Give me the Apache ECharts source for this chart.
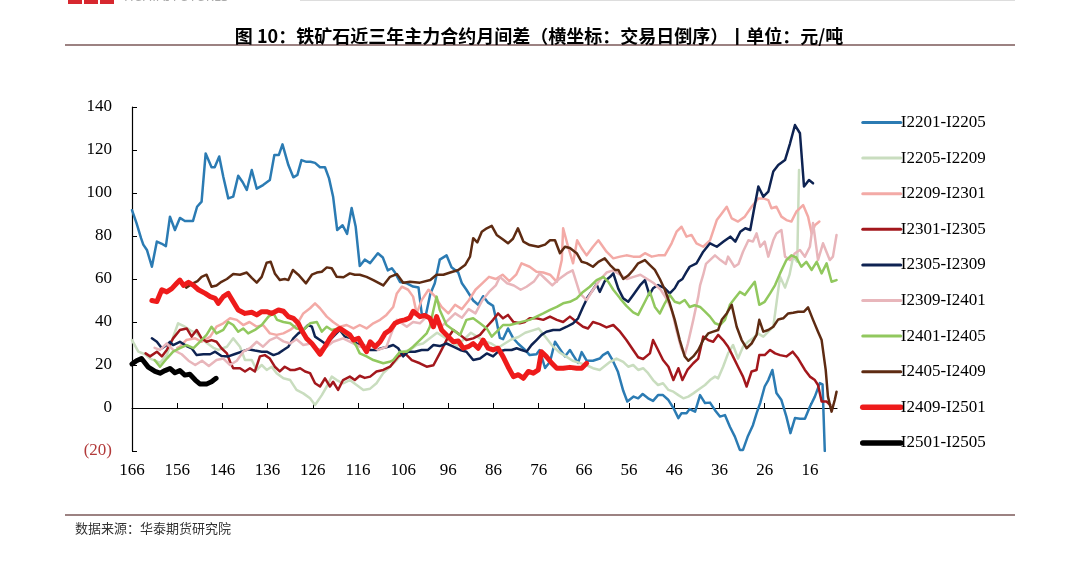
<!DOCTYPE html>
<html>
<head>
<meta charset="utf-8">
<script src="https://cdn.jsdelivr.net/npm/echarts@6/dist/echarts.min.js"></script>
<style>
  html, body { margin: 0; padding: 0; background: #fff; }
  #chart { width: 1078px; height: 563px; }
</style>
</head>
<body>
<div id="chart"></div>
<script>
// x = trading days remaining (reverse order), y = spread in 元/吨
const xTicks = [166, 156, 146, 136, 126, 116, 106, 96, 86, 76, 66, 56, 46, 36, 26, 16];

const s2201 = [[166,92],[165,86],[164,79],[163.5,76],[162.7,73.5],[161.6,65.7],[160.5,77.4],[159.5,76.5],[158.5,75.3],[157.6,89],[156.5,82.8],[155.4,88.4],[154.3,87],[153.4,87],[152.5,87],[151.6,93.6],[150.6,96],[149.7,118.4],[148.4,112],[147.7,112],[146.7,117],[145.8,107.6],[144.7,97.5],[143.6,98.3],[142.5,108],[141.5,105],[140.6,101.4],[139.5,110.7],[138.4,102],[137,103.7],[135.5,106],[134.5,117.7],[133.5,117.7],[132.7,122.6],[131.4,113],[130.3,107.3],[129.4,108.4],[128.5,115.3],[127.4,114.5],[126.5,114.5],[125.5,114],[124.4,112],[123.3,112],[122.4,106.8],[121.5,98.3],[120.6,82.8],[119.4,85],[118.4,81],[117.4,93],[116.5,84.3],[115.6,66],[114.5,69],[113.3,67.4],[111.6,72],[110.5,70],[109.4,64],[108.5,65],[107.8,63],[106.7,58.6],[105.2,58],[103.8,56.5],[102.6,56],[101.9,44],[101,43],[100,53],[99,58],[97.9,69],[96.4,71],[95.3,65.5],[93.8,63],[93,58],[92,55],[90.5,50],[89.4,48],[88.3,52],[87.2,49],[86.1,47.5],[85.3,40],[84.6,32.6],[83.9,32],[82.8,37],[81.7,32.6],[80.6,30],[79,27],[78,24.6],[76.5,25],[75.8,27],[74.6,18.6],[73.5,21.5],[72.4,30.8],[71.3,27.4],[70.2,24],[69.1,27],[68.4,24.6],[67.3,21],[66.5,26],[65.4,22],[64,22],[62.5,23],[61.8,24.6],[60.7,26],[59.6,22],[58.5,17],[57.3,8],[56.4,3],[55,5.3],[54,4.5],[53,6.5],[51.8,4.5],[50.7,3.3],[49.6,6],[48.5,6],[47.3,3.7],[46.2,0],[45.1,-4.7],[44.4,-2.4],[43.3,-2.4],[42.6,-0.5],[41.4,-1.7],[40.3,6],[39.2,2.3],[38.1,2.5],[37,-1],[35.9,-4],[34.8,-3.3],[33.7,-8.7],[32.6,-13.3],[31.5,-19.5],[30.8,-19.5],[29.7,-13],[28.6,-8],[27.8,-2.5],[27,2.3],[26,10],[25.2,13],[24.3,17.7],[23.4,7],[22.3,3.7],[21.2,-4],[20.3,-11.7],[19.3,-4.7],[18.2,-5],[17.1,-5],[16,0.6],[14.9,5.3],[13.8,11.6],[13.2,11],[12.7,-20]];

const s2205 = [[166,31.6],[164.6,26.2],[163.1,25],[162,23],[160.9,22],[159.8,21],[158.3,24.6],[156.9,33],[155.8,39.4],[154.3,37.8],[153,36],[151.7,34.7],[150.5,32],[149.3,30],[148,28],[146.9,27],[145,28.5],[143.6,32.4],[142.1,28.5],[141,22.3],[139.5,22.3],[138.4,17.7],[137.3,20],[136.2,17.7],[135.1,19.2],[134,16.2],[132.5,13.8],[131,13],[129.6,8.4],[128.1,6.8],[126.6,4.5],[125.5,1.4],[124,6],[122.9,10],[121.8,14.6],[120.7,13],[119.3,11.5],[117.8,13],[116.3,10.7],[114.8,8.4],[113.3,9],[111.9,11.5],[110.4,16.2],[108.9,19.2],[107.4,22.3],[106,26.2],[104.5,27],[103,29.3],[101.6,30],[100.1,32.4],[98.5,35],[97,33],[95.5,31],[94,29],[92.5,32],[91,35],[89.5,33],[88,31],[86.5,30],[85,28],[83.5,30],[82,32],[80.5,33],[79,35],[77.5,36],[76,37],[74.5,33],[73,29],[71.5,26],[70,24],[68.5,22],[67,21],[65.5,20],[64,18.5],[62.5,17.7],[60.2,21.5],[58.8,23],[57.3,21.5],[56.2,19.2],[55.1,20],[54,17.7],[52.9,18.5],[51.8,16.2],[50.7,13],[49.6,10.7],[48.5,11.5],[47.3,8.4],[46.2,7.6],[45.1,6],[44,4.5],[42.9,5.3],[41.8,6.8],[40.3,9.1],[39.2,10.7],[38.1,13],[37,14.6],[36.3,13.8],[35.2,19.2],[34.1,25.4],[33,29.3],[31.9,23],[30.8,28.5],[29.7,30.8],[28.6,32.4],[27.5,34.7],[26.3,33.2],[25.2,35.5],[24.1,37.8],[23.4,48.7],[22.6,61],[21.5,56],[20.5,62],[19.7,70.4],[18.8,68],[18.4,110.7]];

const s2209 = [[156,28],[155.4,28.5],[154,31.6],[152,32.4],[150.6,30.8],[148.7,33.2],[147.3,37.8],[145.8,39.4],[144.3,41.7],[142.8,41],[141.4,38.6],[140,40],[138.4,37.8],[137,38.6],[135.5,34.7],[134,34],[132.5,34.7],[131,36.3],[129.6,38.6],[128.1,44],[126.6,46.4],[125.5,48.7],[124.4,46.4],[122.9,42.5],[121.5,40],[120,37.8],[118.5,38.6],[117,37],[115.6,38.6],[114.1,37],[112.6,39.4],[111.1,41],[109.7,43.3],[108.2,47],[107.4,53.3],[106.3,56.4],[104.9,55],[103.8,51.8],[103,44],[101.9,50.2],[100.4,55],[99,52],[97.5,47],[96,44],[94.5,48],[93,46],[91.5,50],[90,55],[88.5,58],[87,61],[85.5,60],[84,62],[82.5,59],[81,62],[79.8,67.3],[78,65.7],[76.5,63.4],[75,63],[73.5,62],[72,58.7],[70.9,68.8],[70.6,83.6],[69.5,75],[68.4,67.3],[67.5,78],[66.5,74.3],[65.4,71],[64,75],[62.8,78],[61,72.7],[59.5,69.6],[58,70.4],[56.6,71],[55.1,70.4],[53.6,70.4],[52.5,72],[51,70.4],[49.6,71],[48.1,71],[46.6,76.6],[45.5,82],[44.4,84.3],[43.3,79.7],[42.2,80.5],[41.1,76.6],[39.6,75],[38.1,78],[36.6,87.4],[35.5,90.5],[34.4,93.6],[33.3,88.2],[31.9,86.7],[30.4,89],[28.9,93.6],[27.4,97.5],[26.3,97.5],[25.2,96.7],[24.5,92.9],[23.4,93.6],[22.3,89],[21.2,87.4],[20.1,86.7],[19,91.3],[17.5,94.4],[16.4,89],[15.6,81.2],[14.9,85],[13.9,86.7]];

const s2301 = [[163,25.4],[162,24],[160.5,26.2],[159.4,24],[158.3,27],[156.9,32.4],[155.4,36.3],[153.9,37],[152.8,33.2],[151.7,36.3],[150.6,32.4],[149.5,30.8],[148.4,31.6],[147.3,30.8],[146.2,27.8],[145,25.4],[144.3,21.5],[143.6,18.5],[142.1,18.5],[141,17],[139.9,18.5],[138.8,17],[137.7,24],[136.6,24.6],[135.5,23],[134.4,19.2],[133.3,17],[132.2,19.2],[131,17.7],[130,17.7],[128.8,18.5],[127.7,17],[126.6,16.2],[125.5,11.5],[124.4,10],[123.3,13.8],[122.2,10],[121.5,12.2],[120.4,8.4],[119.3,13],[117.8,14.6],[116.7,13],[115.6,15],[114.5,14],[113.3,14.6],[111.9,17],[110.4,17.7],[108.9,19.2],[107.1,24],[105.6,25.4],[104.1,22.3],[102.3,20.8],[100.8,19.2],[99.3,19.9],[97.9,25.4],[96.4,31.6],[94.9,36.3],[93.4,34],[92,31.6],[90.5,32.4],[89,34],[87.5,37.8],[86.1,41],[85,44],[83.9,41.7],[82.8,43.3],[81.6,40],[80.2,39.4],[79.1,40],[78,41.7],[76.5,41.7],[75,41],[73.5,42.5],[72,41],[70.6,40],[69.1,42.5],[67.6,40],[66.2,37.8],[65.1,37],[64,40],[62.5,39],[61,37.5],[59.5,38.6],[58,35.5],[56.6,31.6],[55.1,27],[54,23.6],[52.9,22.8],[51.4,25.4],[50.7,31.6],[49.6,27],[48.5,22.3],[47.3,19.2],[46.2,13],[45.1,18.5],[44.2,13],[43.1,17.7],[41.8,20.8],[40.7,23],[39.6,33.2],[38.5,31.6],[37.4,30.8],[36.3,34],[35.2,31.6],[34.1,28.5],[33,23.9],[31.9,19.2],[30.8,14.6],[30,10],[28.9,17],[27.8,17.7],[27.2,24.6],[26,24.6],[24.8,27],[23.7,25.4],[22.6,24.6],[21.2,24],[19.8,26.2],[18.6,23],[17.1,17.7],[16,14.6],[14.9,13],[14.2,10.7],[13.4,3],[12.3,3],[11.5,1.4]];

const s2305 = [[161.6,32.4],[160.5,30.8],[159.4,27.8],[158.3,29.3],[157.6,30.8],[156.9,29.3],[155.4,30.8],[153.9,28.8],[152.8,27.8],[151.7,24.6],[150.2,25],[148.7,25],[147.6,26.2],[146.2,24.2],[144.7,24],[143.2,25.1],[141.7,26.2],[140.3,27.3],[138.8,26.7],[137.3,26.2],[136.2,26.2],[134.7,24.6],[133.6,25.4],[132.5,27],[131.4,28.5],[130.3,32.4],[129.2,34.7],[128.1,36.3],[127,38.6],[126.2,37.8],[125.5,33.2],[124.4,31.6],[123.3,30],[122.2,31.6],[121.1,34],[120,36.3],[118.9,33.2],[117.4,32.4],[116.3,30],[114.8,29.3],[113.3,27],[111.9,27],[110.8,27.8],[109.3,28.5],[108.2,29.3],[107.1,27.8],[106,24],[104.9,26.2],[103.4,26.2],[101.9,27],[100.5,27],[99.3,29.3],[97.9,28.8],[96.4,30],[94.9,28.5],[93.4,27],[92,26.2],[90.5,22.3],[89,23],[87.5,25.4],[86.1,24],[85,26.2],[83.5,27],[82,27],[80.9,27.8],[79.8,27],[78.7,26.2],[77.6,29.3],[76.5,31.6],[75.4,34],[74.3,35.5],[72.8,36.3],[71.3,36.3],[69.8,37.8],[68.4,39.4],[67.3,41.7],[66.2,47],[65.1,51.8],[64,55],[63.2,57.6],[62.5,54],[61.4,59],[60.2,61],[59.5,62.6],[58.4,55.5],[57.3,51],[56.2,49.4],[55.1,52.6],[53.6,57],[52.5,59.5],[51.5,52.6],[50.7,55.7],[49.6,57.2],[48.1,55.7],[47,53.3],[45.9,55.7],[45.1,58.7],[44.2,60],[43.4,63],[42.6,65.7],[41.1,67.3],[39.6,72.7],[38.1,76.6],[36.6,75],[35.1,77.4],[33.6,79.7],[32.5,77.4],[31.4,82],[30.3,83.6],[29.2,82.8],[28.4,92],[27.4,103],[26.3,98.3],[25.2,100.6],[24.1,110],[23,113],[21.5,115.3],[20.4,123],[19.3,131.6],[18.2,127.8],[17.3,103],[16.2,106],[15.3,104.5]];

const s2309 = [[161,28],[159.8,27],[158.3,30],[156.9,27],[155,25],[153.5,22],[152,20],[150.5,22],[149,19.5],[147.3,22.3],[145.8,23],[144.3,20],[142.8,22],[141.4,26.2],[139.9,27.8],[138.4,30.8],[137,28.5],[135.5,31.6],[134,33],[132.5,31],[131,30],[129.6,32],[128.1,29.3],[126.4,30],[124.8,27],[122.9,28.5],[121.5,30.8],[119.3,32.4],[117.5,30.5],[115.6,28.5],[113.3,29.3],[111.5,27],[109.7,28.5],[108.6,34.7],[107.4,41],[106.3,39.4],[105.2,37.8],[103.8,40],[102.3,39.4],[100.8,42.5],[99,40],[97.5,38],[96,41],[94.5,44],[93,42],[91.5,46],[90,44],[88.5,50],[87,54],[85.5,57],[84.6,61],[83,58],[81.5,57],[80,55],[78.7,56.4],[77,59],[75.8,62.6],[74.5,60],[73,57],[71.5,60],[69.8,62.6],[68.5,64],[66.9,53.3],[65.4,50.2],[64,55],[62.5,59.5],[61,63],[59.5,64],[58,62],[56.5,60],[55,61],[53.5,62],[52,60],[50.5,58],[49,55],[47.5,50],[46.5,45],[45.5,36],[44.5,28],[43.7,24.6],[43,30],[41.8,41],[40.7,51.8],[40.3,57],[39.6,62],[39,67],[37,71],[35.8,68.8],[34.6,67],[34.1,70.4],[32.7,65.7],[31.8,67],[30.8,72.7],[29.6,78],[28.6,77.4],[27.8,81.2],[27,75],[26,77.4],[25.2,70.4],[24.1,78],[23.4,81.2],[22.3,82.8],[21.5,70.4],[20.4,68.8],[19.3,72],[18.2,73.5],[17.1,70.4],[16,75],[15.3,86],[14.2,68.8],[13.1,76.6],[11.6,68.8],[10.9,70.4],[10.1,80.5]];

const s2401 = [[161,22.3],[159.8,19.2],[158.3,23],[156.9,26.2],[155.4,27.8],[153.9,29.3],[152.4,27.8],[151,30.8],[149.5,34],[148.4,37.8],[147.3,34.7],[145.8,36.3],[144.7,40],[143.6,38.6],[142.5,35.5],[141.4,37],[140.3,34.7],[138.8,36.3],[137.3,38.6],[135.8,42.5],[134.7,44],[133.9,41],[132.5,40],[131,39.4],[129.6,37],[128.1,36.3],[126.6,39.4],[125.1,40],[124,35.5],[122.9,37.8],[121.8,36.3],[120.3,37],[118.9,34.7],[117.4,32.4],[116.3,28.5],[115.6,25.4],[114.1,24],[112.6,22.3],[110.4,20.8],[109,21.5],[108.2,22.3],[106.7,26.2],[105.2,26.2],[103.8,28.5],[102.3,31.6],[100.8,34.7],[100.1,37.8],[99.3,45.6],[98.6,51.8],[97.9,45.6],[96.4,38.6],[94.9,36.3],[93.4,34],[92,41],[90.5,41.7],[89,39.4],[87.5,37],[86.4,33.2],[85.3,35.5],[83.9,38.6],[82.4,38.6],[80.9,39.4],[79.4,40.3],[78,41],[76.5,42.5],[75,44],[73.5,45.6],[72,47],[70.6,48.7],[69.1,49.4],[67.6,51],[66.2,54],[64.7,56.4],[63.2,59.5],[61.7,61],[60.6,58.7],[59.5,55],[58,51],[56.6,47.5],[55.1,44.5],[54,43.3],[52.5,49.4],[51.4,54],[50.3,47],[49.2,44],[48.1,48.7],[47,52.6],[45.9,49.4],[44.8,48.7],[43.7,50.2],[42.6,47],[41.5,47.8],[40.3,47],[39.2,44.8],[38.1,42.5],[37,39.4],[35.9,38.6],[34.8,41],[33.7,48],[32.6,51],[31.5,54],[30.4,52.6],[29.3,55.7],[28.2,58.7],[27.2,48],[26,49.4],[24.8,53.3],[23.7,57.2],[22.6,62.6],[21.2,68.8],[20.1,71],[19,70],[17.9,65.7],[16.8,68],[15.6,64.2],[14.5,68],[13.4,62.6],[12.3,67.3],[11.2,58.7],[10.1,59.5]];

const s2405 = [[154,56],[152.5,58],[151.5,59],[150.6,61],[149.5,62],[148.4,56.4],[147.3,57],[146.2,58.7],[145,60],[143.6,62.3],[142.1,62],[140.6,63],[139.5,60.5],[138.4,58.3],[137.3,61],[136.2,67.6],[135.3,68],[134.4,62.6],[133.3,59.5],[132.2,60],[131.4,59.5],[130.4,64.2],[129.2,62],[127.5,58],[126.2,62],[125.1,63],[124,63.4],[122.9,65.4],[121.8,65],[120.7,61],[119.2,60.8],[117.8,62.6],[116.7,62],[115.6,62],[114.1,61],[112.6,59.5],[110.4,57],[108.9,61],[107.4,62.3],[106,58.3],[104.5,58.7],[102.3,58.3],[100,59.5],[98.6,62],[97.1,62],[95.6,63],[93.8,64.2],[92.3,66.5],[91.2,70.4],[90.5,79],[89.6,77],[88.6,82],[87.5,83.6],[86.4,84.7],[85.3,80.5],[83.9,78.4],[82.8,76.6],[81.7,78.7],[80.6,83.6],[79.4,77.4],[78,75.8],[76.1,75],[74.6,76],[73.5,78],[72.4,78],[71.3,72],[70.2,75],[69.1,74.4],[67.6,72],[66.5,68],[65.4,67.4],[64,65.7],[62.8,68],[61.4,69.6],[60.2,66.5],[59.1,64.2],[58.4,64.2],[57.3,60],[56.2,61.6],[55.1,64.2],[54,67.3],[52.5,68.8],[51.4,66.5],[50.3,64.2],[49.2,60],[48.1,55],[47,48.7],[45.9,41],[44.8,31.6],[43.7,24],[42.9,22],[41.8,24],[40.7,27],[39.6,31.6],[38.5,34.7],[37.4,35.5],[36.3,36.3],[35.5,41],[34.4,44],[33.3,48],[32.2,37.8],[31.1,31.6],[30,27.8],[28.9,30],[27.8,34],[27.2,41],[26.3,35.5],[25.2,36.3],[24.1,37.8],[23,41.2],[21.9,41.7],[20.8,44],[19.7,44.3],[18.6,44.8],[17.3,44.8],[16.4,46.8],[15.3,41],[14.2,35.5],[13.4,31.6],[12.5,17.7],[12,5.3],[11.2,-1.7],[10.5,3.7],[10.1,7.6]];

const s2409 = [[161.6,50],[160.5,49.5],[159.4,55],[158.3,54],[157.2,55.5],[156.1,58],[155.4,59.5],[154.6,57],[153.5,58.5],[152.4,57],[151.3,55],[149.8,53.3],[148.7,51.8],[147.6,51],[146.9,48.7],[145.8,51.8],[144.7,53.3],[143.6,49.4],[142.5,45.6],[141,44],[139.5,44.5],[138.4,43.3],[137.3,44.8],[136.2,44.8],[135.1,44],[133.6,45.6],[132.5,45],[131.4,42.5],[130.3,41.7],[129.2,39.4],[128.5,36.3],[127.4,32.4],[126.2,30],[125.1,27],[124.4,25],[123.3,28.5],[122.2,32.4],[121.1,35.5],[120,37],[118.9,35.5],[117.8,34],[117,31.6],[115.9,32.4],[114.8,28.5],[114.1,26.2],[113.3,30.8],[112.2,28.5],[111.1,30.8],[110,34.7],[108.9,36.3],[107.8,39.4],[106.7,40.5],[105.6,41],[104.5,42],[103.8,45],[102.3,42.5],[101.2,43],[100.1,41.8],[99.3,37.8],[98.6,42.5],[97.5,36.3],[96.4,34],[94.9,30.8],[93.8,31.2],[92.7,27.8],[91.6,28.5],[90.5,30],[89.4,27.8],[88.3,31.6],[87.2,27.8],[86.1,27],[85,27.8],[83.9,23.9],[82.8,19.2],[81.6,14.6],[80.5,15.5],[79.4,13.8],[78.3,17],[77.2,16.2],[76.1,17.7],[75.4,26.2],[74.3,23.9],[73.1,20.8],[72,18.5],[70.6,18.5],[69.1,18.9],[67.6,18.5],[66.5,18.5],[65.4,20.8]];

const s2501 = [[166,20.5],[165,22],[163.9,23],[162.4,19],[160.9,17],[159.8,16.2],[158.7,17.4],[157.6,18.4],[156.5,16.4],[155.4,17.4],[154.3,15.3],[153.2,15.7],[152,13],[151,11.2],[149.5,11.2],[148.4,12.2],[147.4,13.8]];

const names = ['I2201-I2205', 'I2205-I2209', 'I2209-I2301', 'I2301-I2305', 'I2305-I2309',
               'I2309-I2401', 'I2401-I2405', 'I2405-I2409', 'I2409-I2501', 'I2501-I2505'];
const seriesData = [s2201, s2205, s2209, s2301, s2305, s2309, s2401, s2405, s2409, s2501];
const colors = ['#2b7bb3', '#c9ddbf', '#f3aaa6', '#a3171c', '#0e2352',
                '#e8b6bb', '#91c85e', '#5e2b12', '#ee1b1b', '#000000'];
const widths = [2.5, 2.5, 2.5, 2.5, 2.5, 2.5, 2.5, 2.5, 5, 5];

const serif = 'Liberation Serif, Times New Roman, serif';
const cjk = 'Noto Sans CJK SC, sans-serif';

const chart = echarts.init(document.getElementById('chart'));
chart.setOption({
  backgroundColor: '#fff',
  animation: false,
  title: {
    text: '图 10：铁矿石近三年主力合约月间差（横坐标：交易日倒序）丨单位：元/吨',
    left: 'center',
    top: 22,
    textStyle: { fontFamily: cjk, fontSize: 18, fontWeight: 'bold', color: '#000' }
  },
  graphic: [
    { type: 'rect', shape: { x: 68, y: 0, width: 14, height: 4 }, style: { fill: '#d7282f' } },
    { type: 'rect', shape: { x: 84, y: 0, width: 14, height: 4 }, style: { fill: '#d7282f' } },
    { type: 'rect', shape: { x: 100, y: 0, width: 14, height: 4 }, style: { fill: '#d7282f' } },
    { type: 'text', x: 124, y: -9, style: { text: 'HUATAI FUTURES', font: '13px Noto Sans', fill: '#aaa' } },
    { type: 'rect', shape: { x: 300, y: 0, width: 715, height: 1 }, style: { fill: '#ddd' } },
    { type: 'rect', shape: { x: 65, y: 44, width: 950, height: 2 }, style: { fill: '#9c8282' } },
    { type: 'rect', shape: { x: 65, y: 514, width: 950, height: 2 }, style: { fill: '#9c8282' } },
    { type: 'text', x: 75, y: 522, style: { text: '数据来源：华泰期货研究院', font: '13px Noto Sans CJK SC', fill: '#333' } }
  ],
  legend: {
    orient: 'vertical',
    left: 855,
    top: 109,
    itemWidth: 38,
    itemHeight: 14,
    itemGap: 18.6,
    itemStyle: { opacity: 0 },
    textStyle: { fontFamily: serif, fontSize: 17, color: '#000', padding: [0, 0, 0, -5] },
    data: names.map((name, i) => ({
      name: name,
      lineStyle: { width: widths[i] > 3 ? 5.5 : 3, cap: 'round' }
    }))
  },
  grid: { left: 132, right: 241, top: 107, bottom: 112 },
  xAxis: {
    type: 'value',
    inverse: true,
    min: 10,
    max: 166,
    axisLine: { lineStyle: { color: '#000', width: 1.2 } },
    axisTick: { inside: true, length: 5, lineStyle: { color: '#000' }, customValues: xTicks },
    axisLabel: { fontFamily: serif, fontSize: 17, color: '#000', margin: 11, customValues: xTicks },
    splitLine: { show: false }
  },
  yAxis: {
    type: 'value',
    min: -20,
    max: 140,
    interval: 20,
    axisLine: { show: true, lineStyle: { color: '#000', width: 1.2 } },
    axisTick: { show: true, inside: true, length: 5, lineStyle: { color: '#000' } },
    axisLabel: {
      fontFamily: serif, fontSize: 17, color: '#000', margin: 20,
      formatter: v => v < 0 ? '{neg|(' + (-v) + ')}' : String(v),
      rich: { neg: { fontFamily: serif, fontSize: 17, color: '#b23a3a' } }
    },
    splitLine: { show: false }
  },
  series: names.map((name, i) => ({
    name: name,
    type: 'line',
    data: seriesData[i],
    symbol: 'none',
    color: colors[i],
    lineStyle: { width: widths[i], color: colors[i], join: 'round', cap: 'round' },
    z: 2 + i
  }))
});
</script>
</body>
</html>
